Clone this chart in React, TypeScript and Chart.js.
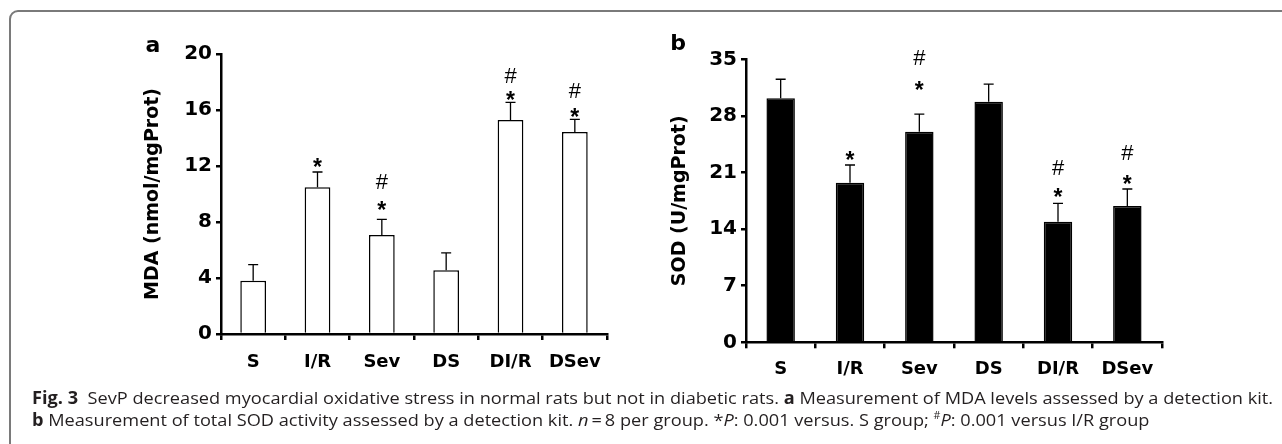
import React, { useEffect, useLayoutEffect, useRef } from "react";
import { Chart, registerables } from "chart.js";

Chart.register(...registerables);

// ---------- data ----------
const categories = ["S", "I/R", "Sev", "DS", "DI/R", "DSev"];

const mdaMean = [3.8, 10.48, 7.07, 4.55, 15.29, 14.43];
const mdaSem = [1.15, 1.09, 1.12, 1.24, 1.26, 0.9];
const mdaTicks = [0, 4, 8, 12, 16, 20];
// significance marks (value level of the mark centre, null = no mark)
const mdaStar = [null, 12.31, 9.21, null, 17.07, 15.88];
const mdaHash = [null, null, 10.88, null, 18.5, 17.43];

const sodMean = [30.18, 19.74, 26.05, 29.76, 14.92, 16.86];
const sodSem = [2.35, 2.19, 2.18, 2.18, 2.27, 2.1];
const sodTicks = [0, 7, 14, 21, 28, 35];
const sodStar = [null, 23.16, 31.9, null, 18.6, 20.28];
const sodHash = [null, null, 35.3, null, 21.6, 23.57];

const AXIS_FONT = "'DejaVu Sans', sans-serif";
const MARK_FONT = "'Liberation Sans', Arial, sans-serif";

// ---------- plugins ----------
const errorBarPlugin = {
  id: "errorBars",
  afterDatasetsDraw(chart: any, _args: any, opts: any) {
    const { ctx } = chart;
    const meta = chart.getDatasetMeta(0);
    const yScale = chart.scales.y;
    const means = chart.data.datasets[0].data as number[];
    const sem: number[] = opts.sem || [];
    ctx.save();
    ctx.strokeStyle = "#000";
    ctx.lineWidth = 1.3;
    meta.data.forEach((bar: any, i: number) => {
      const x = bar.x;
      const yTop = yScale.getPixelForValue(means[i]);
      const yErr = yScale.getPixelForValue(means[i] + sem[i]);
      ctx.beginPath();
      ctx.moveTo(x, yTop);
      ctx.lineTo(x, yErr);
      ctx.moveTo(x - 5, yErr);
      ctx.lineTo(x + 5, yErr);
      ctx.stroke();
    });
    ctx.restore();
  },
};

const marksPlugin = {
  id: "sigMarks",
  afterDraw(chart: any, _args: any, opts: any) {
    const { ctx } = chart;
    const meta = chart.getDatasetMeta(0);
    const yScale = chart.scales.y;
    const star: (number | null)[] = opts.star || [];
    const hash: (number | null)[] = opts.hash || [];
    ctx.save();
    ctx.fillStyle = "#000";
    ctx.textAlign = "center";
    ctx.textBaseline = "alphabetic";
    meta.data.forEach((bar: any, i: number) => {
      const x = bar.x;
      if (star[i] != null) {
        ctx.font = `bold 23px ${MARK_FONT}`;
        ctx.fillText("*", x, yScale.getPixelForValue(star[i]) + 13.2);
      }
      if (hash[i] != null) {
        ctx.font = `22px ${MARK_FONT}`;
        ctx.fillText("#", x, yScale.getPixelForValue(hash[i]) + 7.8);
      }
    });
    if (opts.panel) {
      ctx.font = `bold 22px ${AXIS_FONT}`;
      ctx.textAlign = "center";
      ctx.fillText(opts.panel.text, opts.panel.x, opts.panel.y);
    }
    ctx.restore();
  },
};

function makeConfig(p: {
  means: number[];
  sem: number[];
  ticks: number[];
  star: (number | null)[];
  hash: (number | null)[];
  fill: string;
  title: string;
  titlePad: number;
  padTop: number;
  padRight: number;
  yWidth: number;
  xHeight: number;
  labelPad: number;
  barPct: number;
  panel: { text: string; x: number; y: number };
}) {
  const xFont = { family: AXIS_FONT, weight: "bold" as const, size: 18 };
  const yFont = { family: AXIS_FONT, weight: "bold" as const, size: 20 };
  const step = p.ticks[1] - p.ticks[0];
  return {
    type: "bar" as const,
    data: {
      labels: categories,
      datasets: [
        {
          data: p.means,
          backgroundColor: p.fill,
          borderColor: "#000",
          borderWidth: 1.5,
          barPercentage: p.barPct,
          categoryPercentage: 1,
        },
      ],
    },
    options: {
      responsive: false,
      animation: false as const,
      events: [],
      layout: { padding: { top: p.padTop, right: p.padRight, left: 0, bottom: 0 } },
      plugins: {
        legend: { display: false },
        tooltip: { enabled: false },
        errorBars: { sem: p.sem },
        sigMarks: { star: p.star, hash: p.hash, panel: p.panel },
      },
      scales: {
        x: {
          offset: true,
          grid: {
            offset: true,
            drawOnChartArea: false,
            drawTicks: true,
            tickLength: 6,
            color: "#000",
            lineWidth: 2.5,
          },
          border: { display: true, color: "#000", width: 2.5 },
          ticks: { color: "#000", font: xFont, padding: p.labelPad, maxRotation: 0 },
          afterFit: (s: any) => {
            s.height = p.xHeight;
          },
        },
        y: {
          min: p.ticks[0],
          max: p.ticks[p.ticks.length - 1],
          ticks: { stepSize: step, color: "#000", font: yFont, padding: 4 },
          grid: {
            drawOnChartArea: false,
            drawTicks: true,
            tickLength: 5,
            color: "#000",
            lineWidth: 2.5,
          },
          border: { display: true, color: "#000", width: 2.5 },
          title: {
            display: true,
            text: p.title,
            color: "#000",
            font: { family: AXIS_FONT, weight: "bold" as const, size: 19 },
            padding: { top: p.titlePad, bottom: 0 },
          },
          afterFit: (s: any) => {
            s.width = p.yWidth;
          },
        },
      },
    },
    plugins: [errorBarPlugin, marksPlugin],
  };
}

function BarPanel(props: { cfg: any; left: number; top: number; width: number; height: number }) {
  const ref = useRef<HTMLCanvasElement>(null);
  useEffect(() => {
    if (!ref.current) return;
    const chart = new Chart(ref.current, props.cfg);
    return () => chart.destroy();
  }, []);
  return (
    <canvas
      ref={ref}
      width={props.width}
      height={props.height}
      style={{
        position: "absolute",
        left: props.left,
        top: props.top,
        width: props.width,
        height: props.height,
      }}
    />
  );
}

const cfgA = makeConfig({
  means: mdaMean,
  sem: mdaSem,
  ticks: mdaTicks,
  star: mdaStar,
  hash: mdaHash,
  fill: "#ffffff",
  title: "MDA (nmol/mgProt)",
  titlePad: 21.5,
  padTop: 34,
  padRight: 13,
  yWidth: 101,
  xHeight: 56,
  labelPad: 12,
  barPct: 0.4,
  panel: { text: "a", x: 33, y: 31.5 },
});

const cfgB = makeConfig({
  means: sodMean,
  sem: sodSem,
  ticks: sodTicks,
  star: sodStar,
  hash: sodHash,
  fill: "#000000",
  title: "SOD (U/mgProt)",
  titlePad: 38.5,
  padTop: 39.3,
  padRight: 28,
  yWidth: 116,
  xHeight: 47.7,
  labelPad: 10,
  barPct: 0.41,
  panel: { text: "b", x: 48, y: 30 },
});

export default function App() {
  const l1 = useRef<HTMLDivElement>(null);
  const l2 = useRef<HTMLDivElement>(null);
  useLayoutEffect(() => {
    if (!l1.current || !l2.current) return;
    const w = l1.current.scrollWidth;
    const f = 1241 / w;
    l1.current.style.transform = `scaleX(${f})`;
    l2.current.style.transform = `scaleX(${f})`;
  }, []);

  const capStyle: React.CSSProperties = {
    position: "absolute",
    left: 32,
    fontFamily: "'Open Sans', sans-serif",
    fontSize: 17,
    lineHeight: "22px",
    whiteSpace: "nowrap",
    color: "#231f20",
    transformOrigin: "0 0",
  };

  return (
    <div
      style={{
        position: "absolute",
        left: 0,
        top: 0,
        width: 1282,
        height: 444,
        overflow: "hidden",
        background: "#fff",
      }}
    >
      <div
        style={{
          position: "absolute",
          left: 9,
          top: 10,
          width: 1400,
          height: 600,
          border: "2px solid #7a7a7a",
          borderTopLeftRadius: 9,
          boxSizing: "border-box",
        }}
      />
      <BarPanel cfg={cfgA} left={120} top={20} width={500} height={370} />
      <BarPanel cfg={cfgB} left={630} top={20} width={560} height={370} />
      <div ref={l1} style={{ ...capStyle, top: 387 }}>
        <b>Fig. 3</b>&nbsp;&nbsp;SevP decreased myocardial oxidative stress in normal rats but not in diabetic
        rats. <b>a</b> Measurement of MDA levels assessed by a detection kit.
      </div>
      <div ref={l2} style={{ ...capStyle, top: 409 }}>
        <b>b</b> Measurement of total SOD activity assessed by a detection kit. <i>n</i>
        {"\u2009=\u20098"} per group. *<i>P</i>: 0.001 versus. S group; <sup style={{ fontSize: 10, lineHeight: 0 }}>#</sup>
        <i>P</i>: 0.001 versus I/R group
      </div>
    </div>
  );
}
